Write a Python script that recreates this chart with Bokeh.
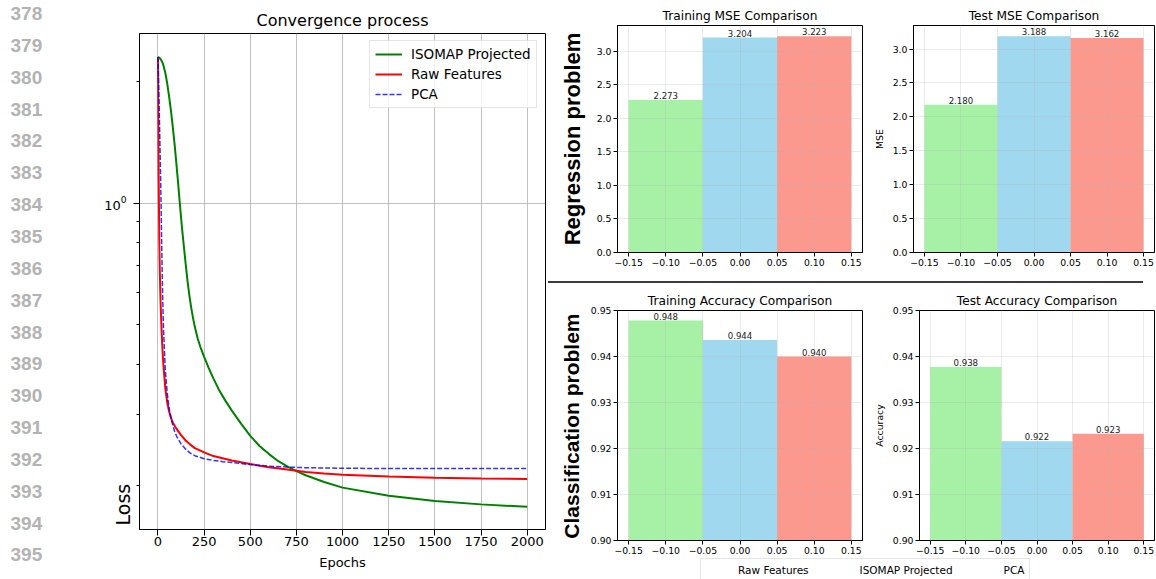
from math import pi
from bokeh.plotting import figure
from bokeh.models import (ColumnDataSource, Range1d, FixedTicker, CustomJSTickFormatter,
                          LabelSet, Legend, LegendItem, Div, Title, LogAxis)
from bokeh.layouts import row, column
from bokeh.core.properties import value
from bokeh.embed import file_html
from bokeh.resources import INLINE

# ---------------- data ----------------
epochs_isomap = [0, 5, 10, 15, 20, 25, 30, 40, 50, 60, 70, 80, 90, 100, 110, 120, 130, 140, 150,
                 160, 170, 180, 190, 200, 215, 230, 250, 275, 300, 330, 365, 400, 450, 500, 550,
                 600, 650, 700, 750, 800, 900, 1000, 1250, 1500, 1750, 2000]
loss_isomap = [2.30, 2.295, 2.285, 2.27, 2.25, 2.225, 2.19, 2.10, 1.98, 1.84, 1.70, 1.55, 1.40,
               1.25, 1.11, 0.98, 0.87, 0.785, 0.708, 0.643, 0.592, 0.552, 0.520, 0.494, 0.463,
               0.441, 0.417, 0.391, 0.369, 0.346, 0.325, 0.307, 0.285, 0.266, 0.251, 0.240,
               0.2305, 0.2235, 0.2175, 0.2125, 0.2045, 0.198, 0.189, 0.1835, 0.180, 0.1775]
epochs_raw = [0, 2, 4, 7, 10, 14, 20, 25, 30, 40, 50, 60, 70, 80, 100, 125, 150, 175, 200, 250,
              300, 350, 400, 500, 600, 700, 750, 800, 900, 1000, 1250, 1500, 1750, 2000]
loss_raw = [2.30, 1.65, 1.15, 0.82, 0.68, 0.57, 0.48, 0.43, 0.395, 0.348, 0.322, 0.306, 0.295,
            0.287, 0.277, 0.267, 0.259, 0.253, 0.248, 0.242, 0.237, 0.234, 0.231, 0.2265, 0.2225,
            0.2195, 0.218, 0.2165, 0.2145, 0.213, 0.211, 0.2095, 0.2085, 0.208]
epochs_pca = [0, 3, 6, 10, 15, 20, 25, 30, 40, 50, 60, 70, 80, 90, 100, 125, 150, 175, 200, 250,
              300, 350, 400, 500, 600, 700, 800, 1000, 1250, 1500, 1750, 2000]
loss_pca = [2.30, 2.05, 1.78, 1.45, 1.12, 0.80, 0.60, 0.49, 0.385, 0.34, 0.312, 0.295, 0.283,
            0.273, 0.266, 0.254, 0.2465, 0.241, 0.2375, 0.2335, 0.2312, 0.2296, 0.2284, 0.2258,
            0.2238, 0.2226, 0.2218, 0.2211, 0.2208, 0.2207, 0.2207, 0.2207]
epoch_ticks = [0, 250, 500, 750, 1000, 1250, 1500, 1750, 2000]
loss_major_ticks = [1.0]
loss_minor_ticks = [0.2, 0.3, 0.4, 0.5, 0.6, 0.7, 0.8, 0.9, 2.0]
line_numbers = list(range(378, 396))

methods = ["ISOMAP Projected", "Raw Features", "PCA"]
bar_x = [-0.1, 0.0, 0.1]
train_mse = [2.273, 3.204, 3.223]
test_mse = [2.180, 3.188, 3.162]
train_acc = [0.9478, 0.9436, 0.9400]
test_acc = [0.9377, 0.9216, 0.9232]
bar_ticks = [-0.15, -0.10, -0.05, 0.0, 0.05, 0.10, 0.15]
mse_ticks = [0.0, 0.5, 1.0, 1.5, 2.0, 2.5, 3.0]
acc_ticks = [0.90, 0.91, 0.92, 0.93, 0.94, 0.95]
legend_order = ["Raw Features", "ISOMAP Projected", "PCA"]

FONT = "DejaVu Sans"
BOLD_FONT = "Liberation Sans"
bar_colors = ["#90ee90", "#87ceeb", "#fa8072"]
PAGE_H = 579

# ---------------- line-number strip ----------------
strip = figure(width=60, height=PAGE_H, x_range=Range1d(0, 60), y_range=Range1d(PAGE_H, 0),
               output_backend="svg", toolbar_location=None, x_axis_location=None,
               y_axis_location=None, min_border=0, outline_line_color=None)
strip.grid.visible = False
ln_src = ColumnDataSource(dict(x=[10] * len(line_numbers),
                               y=[13 + 31.85 * i for i in range(len(line_numbers))],
                               text=[str(n) for n in line_numbers]))
strip.text(x="x", y="y", text="text", source=ln_src, text_font=value(BOLD_FONT),
           text_font_size=value("19px"), text_font_style="bold", text_color="#b3b3b3",
           text_align="left", text_baseline="middle")

# ---------------- left: convergence ----------------
left = figure(width=488, height=PAGE_H, y_axis_type="log",
              x_range=Range1d(-100, 2099), y_range=Range1d(0.156, 2.63),
              title="Convergence process", output_backend="svg", toolbar_location=None,
              min_border_left=79, min_border_right=3, min_border_top=33, min_border_bottom=50)
left.title.align = "center"
left.title.text_font = FONT
left.title.text_font_size = "16px"
left.title.text_font_style = "normal"
left.title.text_color = "black"
left.title.standoff = 7
left.outline_line_color = "black"
left.xaxis.ticker = FixedTicker(ticks=epoch_ticks)
left.yaxis.ticker = FixedTicker(ticks=loss_major_ticks, minor_ticks=loss_minor_ticks)
left.yaxis.formatter = CustomJSTickFormatter(code="return ''")
left.axis.major_label_text_font = FONT
left.axis.major_label_text_font_size = "13px"
left.axis.major_label_text_color = "black"
left.axis.major_tick_in = 0
left.axis.major_tick_out = 6
left.axis.minor_tick_in = 0
left.axis.minor_tick_out = 3
left.xaxis.minor_tick_line_color = None
left.xaxis.major_label_standoff = 1
left.yaxis.major_label_standoff = 0
left.xaxis.axis_label = "Epochs"
left.xaxis.axis_label_text_font = FONT
left.xaxis.axis_label_text_font_size = "13px"
left.xaxis.axis_label_text_font_style = "normal"
left.xaxis.axis_label_text_color = "black"
left.xaxis.axis_label_standoff = 6
left.grid.grid_line_color = "#b0b0b0"
left.grid.grid_line_width = 0.8

left.add_layout(Title(text="Loss", align="left", text_font=FONT, text_font_size="19px",
                      text_font_style="normal", text_color="black", standoff=0, offset=4), "left")
left.add_layout(LogAxis(ticker=FixedTicker(ticks=loss_major_ticks), major_tick_in=0,
                        major_tick_out=0, minor_tick_in=0, minor_tick_out=0,
                        axis_line_color=None, major_tick_line_color=None,
                        minor_tick_line_color=None, major_label_standoff=-17,
                        major_label_text_font=FONT, major_label_text_font_size="13px",
                        major_label_text_color="black"), "left")

r_iso = left.line(epochs_isomap, loss_isomap, line_color="green", line_width=2)
r_raw = left.line(epochs_raw, loss_raw, line_color="red", line_width=2)
r_pca = left.line(epochs_pca, loss_pca, line_color="blue", line_width=1.5,
                  line_dash="5 2", line_alpha=0.8)

leg = Legend(items=[LegendItem(label=methods[0], renderers=[r_iso]),
                    LegendItem(label=methods[1], renderers=[r_raw]),
                    LegendItem(label=methods[2], renderers=[r_pca])],
             location=(230, 421), margin=0, padding=5, spacing=4,
             glyph_width=27, glyph_height=14, label_height=14, label_standoff=9,
             label_text_font=FONT, label_text_font_size="13.5px", label_text_color="black",
             border_line_color="#cccccc", background_fill_alpha=0.8)
left.add_layout(leg)


# ---------------- bar panels ----------------
def bar_panel(title, vals, y_range, y_ticks, y_digits, width, height,
              b_left, b_right, b_top, b_bottom, title_standoff, y_label=None):
    p = figure(width=width, height=height, x_range=Range1d(-0.165, 0.165), y_range=y_range,
               title=title, output_backend="svg", toolbar_location=None,
               min_border_left=b_left, min_border_right=b_right,
               min_border_top=b_top, min_border_bottom=b_bottom)
    p.title.align = "center"
    p.title.text_font = FONT
    p.title.text_font_size = "12.2px"
    p.title.text_font_style = "normal"
    p.title.text_color = "black"
    p.title.standoff = title_standoff
    p.outline_line_color = "black"
    p.xaxis.ticker = FixedTicker(ticks=bar_ticks)
    p.yaxis.ticker = FixedTicker(ticks=y_ticks)
    p.xaxis.formatter = CustomJSTickFormatter(code="return tick.toFixed(2).replace('-', '\u2212')")
    p.yaxis.formatter = CustomJSTickFormatter(code="return tick.toFixed(%d)" % y_digits)
    p.axis.major_label_text_font = FONT
    p.axis.major_label_text_font_size = "9.3px"
    p.axis.major_label_text_color = "black"
    p.axis.major_tick_in = 0
    p.axis.major_tick_out = 4
    p.axis.minor_tick_line_color = None
    p.axis.major_label_standoff = 2
    p.grid.grid_line_color = "#b0b0b0"
    p.grid.grid_line_alpha = 0.3
    p.grid.grid_line_width = 0.8
    p.grid.level = "guide"
    if y_label:
        p.yaxis.axis_label = y_label
        p.yaxis.axis_label_text_font = FONT
        p.yaxis.axis_label_text_font_size = "9.3px"
        p.yaxis.axis_label_text_font_style = "normal"
        p.yaxis.axis_label_text_color = "black"
        p.yaxis.axis_label_standoff = 5
    s = ColumnDataSource(dict(x=bar_x, top=vals, color=bar_colors,
                              label=["%.3f" % v for v in vals]))
    p.vbar(x="x", top="top", width=0.1, source=s, fill_color="color", fill_alpha=0.8,
           line_color=None)
    p.add_layout(LabelSet(x="x", y="top", text="label", source=s, text_align="center",
                          text_baseline="bottom", y_offset=1, text_font=value(FONT),
                          text_font_size=value("8.6px"), text_color="#222222"))
    return p


tr1 = bar_panel("Training MSE Comparison", train_mse, Range1d(0, max(train_mse) * 1.05),
                mse_ticks, 1, 322, 281, 69, 8, 25, 29, 5)
tr2 = bar_panel("Test MSE Comparison", test_mse, Range1d(0, max(test_mse) * 1.05),
                mse_ticks, 1, 286, 281, 42, 2, 25, 29, 5, y_label="MSE")
br1 = bar_panel("Training Accuracy Comparison", train_acc, Range1d(0.90, 0.95),
                acc_ticks, 2, 322, 274, 69, 8, 27, 17, 6)
br2 = bar_panel("Test Accuracy Comparison", test_acc, Range1d(0.90, 0.95),
                acc_ticks, 2, 286, 274, 42, 2, 27, 17, 6, y_label="Accuracy")

tr1.add_layout(Title(text="Regression problem", align="center", text_font=BOLD_FONT,
                     text_font_size="22px", text_font_style="bold", text_color="black",
                     standoff=17), "left")
br1.add_layout(Title(text="Classification problem", align="right", text_font=BOLD_FONT,
                     text_font_size="21px", text_font_style="bold", text_color="black",
                     standoff=10, offset=3), "left")

sep = Div(text="", width=595, height=2, margin=0, styles={"background-color": "#3c3c3c"})

# ---------------- shared legend ----------------
legfig = figure(width=608, height=22, x_range=Range1d(0, 1), y_range=Range1d(0, 1),
                output_backend="svg", toolbar_location=None,
                x_axis_location=None, y_axis_location=None, min_border=0,
                outline_line_color=None)
legfig.grid.visible = False
items = []
for name in legend_order:
    i = methods.index(name)
    r = legfig.vbar(x=[], top=[], width=0.1, fill_color=bar_colors[i], fill_alpha=0.8,
                    line_color=None)
    items.append(LegendItem(label=name, renderers=[r]))
bleg = Legend(items=items, orientation="horizontal", location=(152, -3), margin=0, padding=5,
              glyph_width=26, glyph_height=9, label_height=12, label_standoff=6, spacing=19,
              label_text_font=FONT, label_text_font_size="10.5px", label_text_color="black",
              border_line_color="#cccccc")
legfig.add_layout(bleg)

right = column(row(tr1, tr2), sep, row(br1, br2), legfig)
layout = row(column(strip), left, right)

open("out.html", "w").write(file_html(layout, INLINE, "chart"))
